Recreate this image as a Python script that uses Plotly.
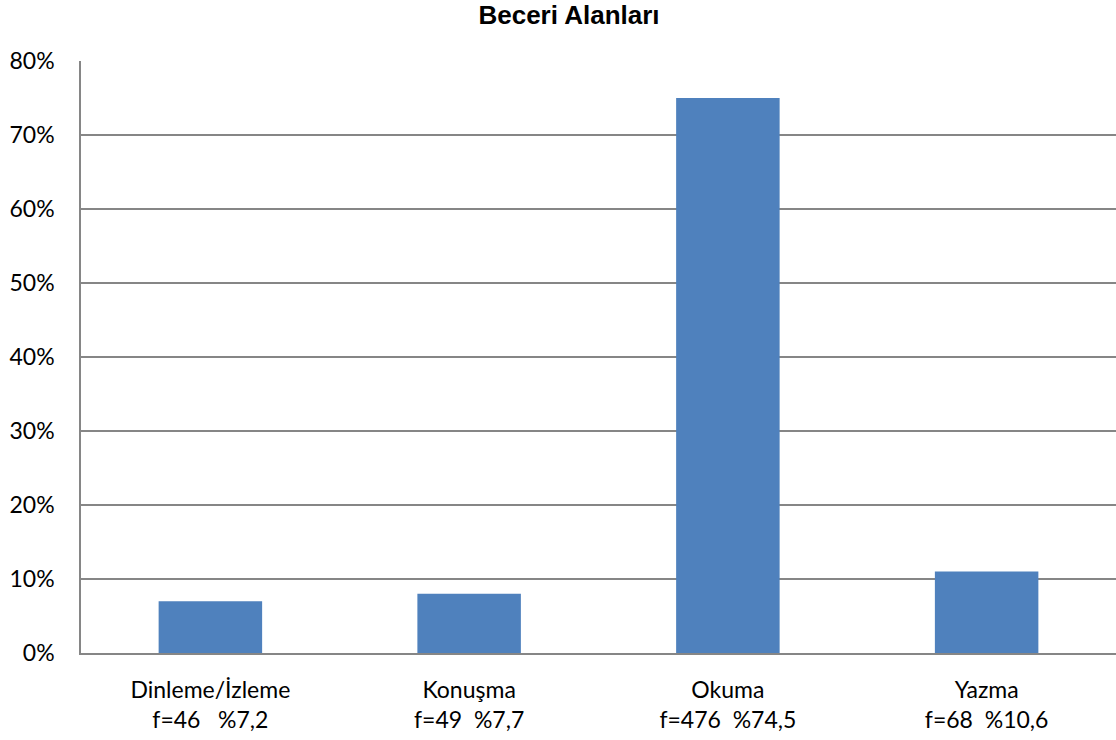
import plotly.graph_objects as go

categories = ["Dinleme/İzleme<br>f=46   %7,2", "Konuşma<br>f=49  %7,7", "Okuma<br>f=476  %74,5", "Yazma<br>f=68  %10,6"]
values = [0.07, 0.08, 0.75, 0.11]
tick_vals = [0, 0.1, 0.2, 0.3, 0.4, 0.5, 0.6, 0.7, 0.8]
tick_text = ["0%", "10%", "20%", "30%", "40%", "50%", "60%", "70%", "80%"]

W, H = 1116, 740

fig = go.Figure()
fig.add_trace(go.Bar(
    x=categories, y=values,
    marker=dict(color="#4F81BD", line=dict(width=0)),
    width=0.4,
))

fig.update_layout(
    width=W, height=H,
    paper_bgcolor="white", plot_bgcolor="white",
    margin=dict(l=81, r=0, t=61, b=87),
    showlegend=False,
    font=dict(family="Lato, 'Open Sans', sans-serif", size=23, color="#000000"),
    title=dict(text="<b>Beceri Alanları</b>", x=569 / W, xanchor="center",
               y=1 - 15 / H, yanchor="middle",
               font=dict(family="Liberation Sans, Arial, sans-serif", size=26, color="#000000")),
)
fig.update_yaxes(
    range=[0, 0.8], tickvals=tick_vals, ticktext=tick_text,
    showgrid=True, gridcolor="#868686", gridwidth=1.5,
    showline=True, linecolor="#868686", linewidth=1.5,
    zeroline=False, ticks="", ticklabelstandoff=20,
)
fig.update_xaxes(
    showline=True, linecolor="#868686", linewidth=1.5,
    showgrid=False, ticks="", ticklabelstandoff=16,
)

fig.write_html("out.html", config={"displayModeBar": False},
               post_script="document.body.style.margin='0';")
